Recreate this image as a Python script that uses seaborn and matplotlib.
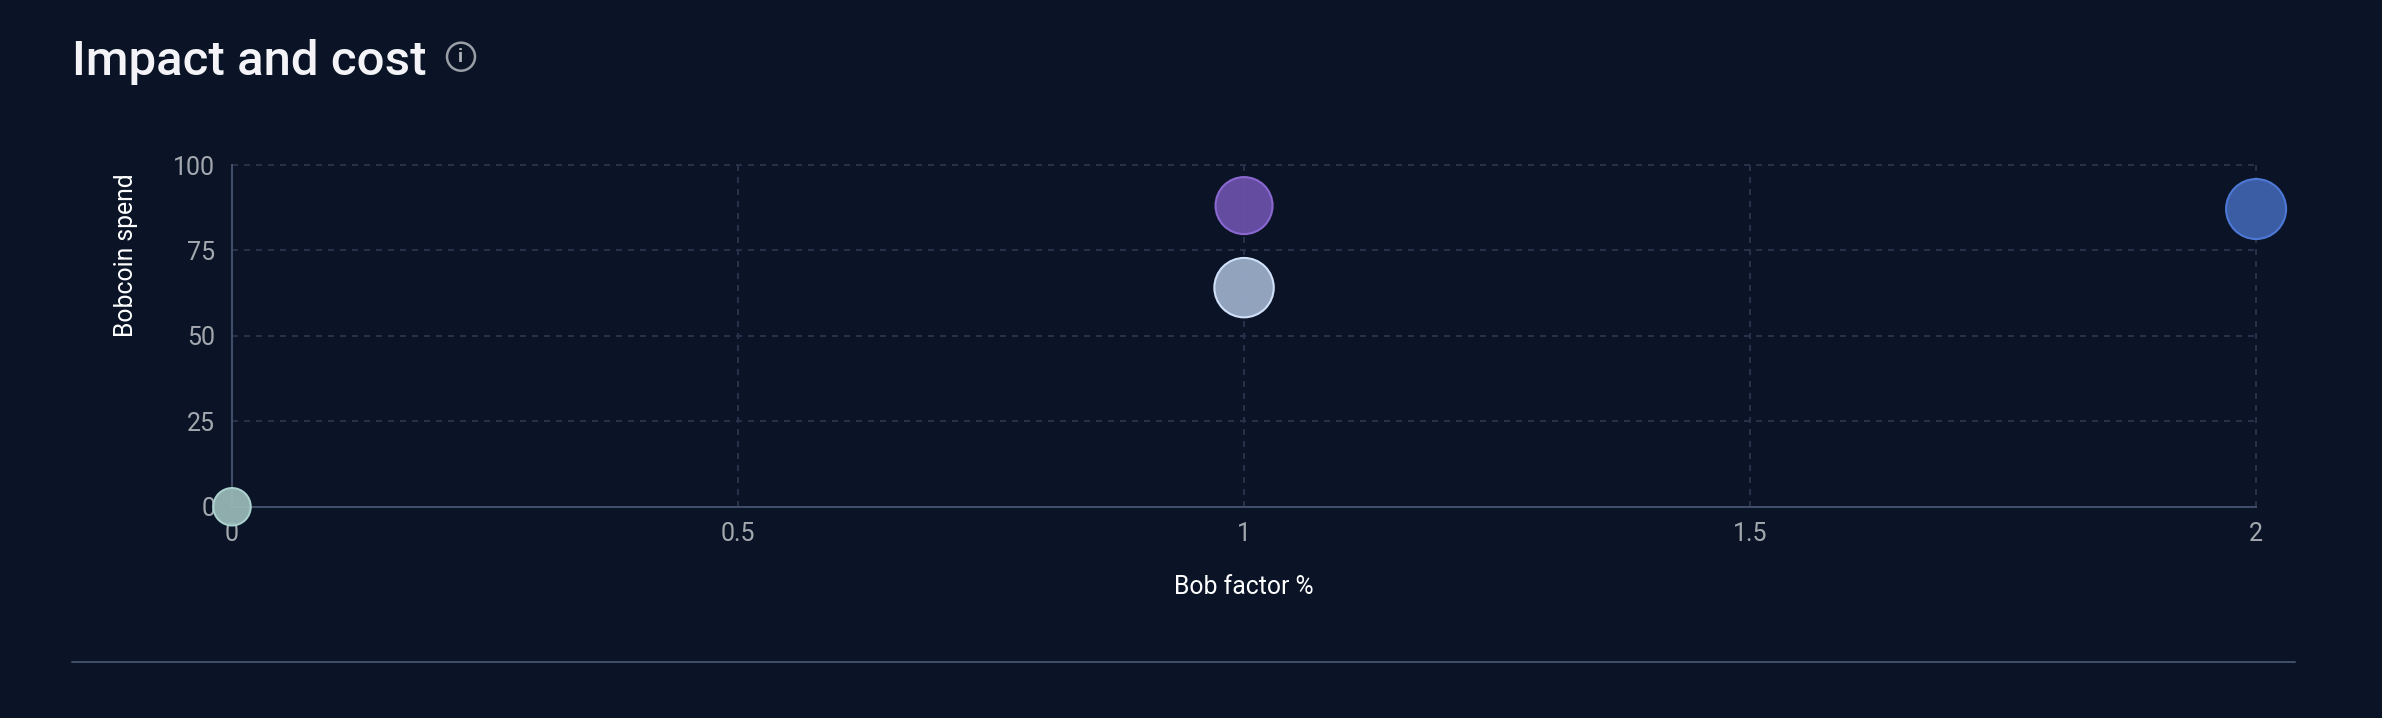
import numpy as np
import pandas as pd
import seaborn as sns
import matplotlib.pyplot as plt
from matplotlib.colors import to_rgba
from matplotlib.lines import Line2D
from matplotlib.patches import Circle

# values
bob_factor = [1, 1, 2, 0]
bobcoin_spend = [88.1, 64.1, 87.1, 0]
bubble_weight = [28.5, 29.7, 30, 18.7]

x_ticks = [0, 0.5, 1, 1.5, 2]
x_tick_labels = ["0", "0.5", "1", "1.5", "2"]
y_ticks = [0, 25, 50, 75, 100]

BG = "#0a1426"
GRID = "#263149"
AXIS = "#404d69"
TICK_TEXT = "#a3a7ae"
fill_colors = ["#6b50aa", "#9aadc8", "#3f62ad", "#98b8b6"]
edge_colors = ["#8a68d0", "#cfe0f8", "#4d78d6", "#a9d0cc"]

W, H = 2382, 718
left, right, top, bottom = 232, 2256, 165, 506.8

sns.set_theme(style="white")
plt.rcParams["font.family"] = ["Roboto", "DejaVu Sans"]

df = pd.DataFrame({"x": bob_factor, "y": bobcoin_spend, "w": bubble_weight})

# the extra 0.1 px keeps int() in savefig from dropping a row
fig = plt.figure(figsize=((W + 0.1) / 100, (H + 0.1) / 100), dpi=100, facecolor=BG)
ax = fig.add_axes([left / W, 1 - bottom / H, (right - left) / W, (bottom - top) / H], facecolor=BG)

# marker area in pt^2 from radius in px
df["s"] = (df["w"] * 2 * 0.72) ** 2
sns.scatterplot(data=df, x="x", y="y", size="s", sizes=(df["s"].min(), df["s"].max()),
                legend=False, ax=ax, clip_on=False, zorder=3, linewidth=1.5)
pts = ax.collections[0]
pts.set_facecolor([to_rgba(c, 0.94) for c in fill_colors])
pts.set_edgecolor(edge_colors)

ax.set_xlim(0, 2)
ax.set_ylim(0, 100)
ax.set_xticks(x_ticks, x_tick_labels)
ax.set_yticks(y_ticks)
ax.set_axisbelow(True)
ax.grid(True, color=GRID, linewidth=1.44, linestyle=(0, (3, 3)))
# lines on the axes edge would lose half their width otherwise
for line in ax.get_xgridlines() + ax.get_ygridlines():
    line.set_clip_on(False)
ax.tick_params(axis="y", length=8.6, width=1.44, color=GRID, labelcolor=TICK_TEXT, labelsize=18, pad=3.5)
ax.tick_params(axis="x", length=8.6, width=1.44, color=AXIS, labelcolor=TICK_TEXT, labelsize=18, pad=2)

sns.despine(ax=ax, top=True, right=True)
for side in ["left", "bottom"]:
    ax.spines[side].set_color(AXIS)
    ax.spines[side].set_linewidth(1.44)

ax.set_xlabel("")
ax.set_ylabel("")
fig.text(1244 / W, 1 - 586.5 / H, "Bob factor %", color="white", fontsize=17.8, ha="center", va="center")
fig.text(125.5 / W, 1 - 255 / H, "Bobcoin spend", color="white", fontsize=17.8, ha="center", va="center", rotation=90)

fig.text(72 / W, 1 - 75 / H, "Impact and cost", color="#f4f4f8", fontsize=35.4, fontweight="medium", ha="left", va="baseline")

# info icon
fig.add_artist(Circle((461, H - 56.7), 14, transform=None, fill=False, edgecolor="#9a9ea6", linewidth=1.8))
fig.text(461 / W, 1 - 57 / H, "i", color="#b0b4ba", fontsize=14, fontweight="bold", ha="center", va="center")

# rule under the chart
fig.add_artist(Line2D([72 / W, 2295 / W], [1 - 661.7 / H] * 2, color=AXIS, linewidth=1.44))

fig.savefig("out.png", dpi=100, facecolor=BG)
